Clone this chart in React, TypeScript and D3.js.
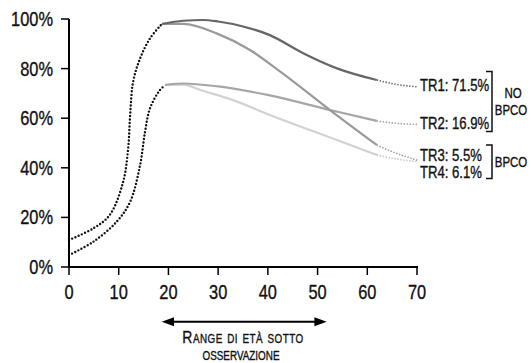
import React, { useEffect, useRef } from 'react';
import * as d3 from 'd3';

// Age (x) and share in percent (y)
type Pt = [number, number];

const riseUpper: Pt[] = [
  [0, 10.9], [4.9, 15.6], [8.2, 21], [10.9, 34.4], [11.9, 47.9], [12.3, 61.3],
  [12.9, 74.7], [14.3, 84.1], [16.3, 92.2], [18.7, 98]
];
const riseLower: Pt[] = [
  [0, 4.8], [4.9, 10.2], [9.6, 18.3], [12.3, 26.3], [14.3, 41.1], [15.3, 54.6],
  [16.3, 64], [18.3, 71.4], [19.3, 73.2]
];

const tr1: Pt[] = [[18.7, 98], [23, 99.3], [27, 99.6], [30, 99], [35, 97], [40.4, 93.5], [47.1, 86.2], [53.9, 80.1], [61.9, 75.4]];
const tr2: Pt[] = [[19.3, 73.4], [23, 74], [30, 72.8], [40.4, 69.2], [52.5, 63.3], [61.9, 58.9]];
const tr3: Pt[] = [[18.7, 98], [23, 98], [29.7, 94.2], [36.4, 87.5], [42.5, 78.8], [52.5, 63.3], [61.9, 49.2]];
const tr4: Pt[] = [[19.3, 73.4], [23, 73.5], [26.4, 71.4], [33, 67.3], [40.4, 61.3], [53.9, 51.2], [61.9, 45.2]];

const tail1: Pt[] = [[61.9, 75.4], [66, 73.6], [70.2, 72.6]];
const tail2: Pt[] = [[61.9, 58.9], [66, 57.9], [70.2, 57.5]];
const tail3: Pt[] = [[61.9, 49.2], [65, 46.5], [70.2, 43]];
const tail4: Pt[] = [[61.9, 45.2], [66, 43.5], [70.2, 42.5]];

const trLabels = ['TR1: 71.5%', 'TR2: 16.9%', 'TR3: 5.5%', 'TR4: 6.1%'];
const trLabelY = [73, 58, 44.8, 38.3];
const xTicks = [0, 10, 20, 30, 40, 50, 60, 70];
const yTicks = [0, 20, 40, 60, 80, 100];

const FONT = '"Liberation Sans", Arial, sans-serif';
const SQUEEZE = 0.82; // condensed look of the original lettering

const App = () => {
  const ref = useRef<SVGSVGElement>(null);

  useEffect(() => {
    const svg = d3.select(ref.current);
    svg.selectAll('*').remove();

    const x = d3.scaleLinear().domain([0, 70]).range([69, 417]);
    const y = d3.scaleLinear().domain([0, 100]).range([267, 19]);

    const line = d3.line<Pt>()
      .x(d => x(d[0]))
      .y(d => y(d[1]))
      .curve(d3.curveMonotoneX);
    const riseLine = d3.line<Pt>()
      .x(d => x(d[0]))
      .y(d => y(d[1]))
      .curve(d3.curveCatmullRom.alpha(0.5));

    // condensed text, anchored at (tx, ty)
    const label = (t: string | number, tx: number, ty: number, size: number, anchor = 'start') =>
      svg.append('g')
        .attr('transform', `translate(${tx},${ty}) scale(${SQUEEZE},1)`)
        .append('text')
        .attr('text-anchor', anchor)
        .attr('font-family', FONT)
        .attr('font-size', size)
        .attr('fill', '#111')
        .attr('stroke', '#111')
        .attr('stroke-width', 0.35)
        .text(t);

    // Solid curves
    const solids: [Pt[], string][] = [
      [tr4, '#d2d2d2'], [tr2, '#a6a6a6'], [tr3, '#9a9a9a'], [tr1, '#666666']
    ];
    solids.forEach(([d, c]) => {
      svg.append('path')
        .attr('d', line(d))
        .attr('fill', 'none')
        .attr('stroke', c)
        .attr('stroke-width', 2.2);
    });

    // Dotted tails to labels
    const tails: [Pt[], string][] = [
      [tail1, '#666666'], [tail2, '#a0a0a0'], [tail3, '#9a9a9a'], [tail4, '#c4c4c4']
    ];
    tails.forEach(([d, c]) => {
      svg.append('path')
        .attr('d', line(d))
        .attr('fill', 'none')
        .attr('stroke', c)
        .attr('stroke-width', 1.6)
        .attr('stroke-dasharray', '1.4,1.6');
    });

    // Dotted rise on the left
    [riseUpper, riseLower].forEach(d => {
      svg.append('path')
        .attr('d', riseLine(d))
        .attr('fill', 'none')
        .attr('stroke', '#111')
        .attr('stroke-width', 2.4)
        .attr('stroke-linecap', 'round')
        .attr('stroke-dasharray', '0,3.5');
    });

    // Axes
    svg.append('line')
      .attr('x1', x(0)).attr('x2', x(0))
      .attr('y1', y(100)).attr('y2', y(0))
      .attr('stroke', '#000').attr('stroke-width', 2);
    svg.append('line')
      .attr('x1', x(0) - 1).attr('x2', x(70) + 1)
      .attr('y1', y(0)).attr('y2', y(0))
      .attr('stroke', '#000').attr('stroke-width', 2);

    yTicks.forEach(t => {
      svg.append('line')
        .attr('x1', x(0) - 8).attr('x2', x(0))
        .attr('y1', y(t)).attr('y2', y(t))
        .attr('stroke', '#000').attr('stroke-width', 1.5);
      label(`${t}%`, 53, y(t) + 7, 20, 'end');
    });

    xTicks.forEach(t => {
      svg.append('line')
        .attr('x1', x(t)).attr('x2', x(t))
        .attr('y1', y(0)).attr('y2', y(0) + 8)
        .attr('stroke', '#000').attr('stroke-width', 1.5);
      label(t, x(t), 299, 20, 'middle');
    });

    // Labels on the right
    trLabels.forEach((l, i) => label(l, 420, y(trLabelY[i]) + 5.5, 16));

    // Brackets
    const brackets: [number, number][] = [[71.5, 131.5], [145, 178.5]];
    brackets.forEach(([a, b]) => {
      svg.append('path')
        .attr('d', `M486,${a}H492V${b}H486`)
        .attr('fill', 'none')
        .attr('stroke', '#111')
        .attr('stroke-width', 1.5);
    });

    label('NO', 513, 98, 14, 'middle');
    label('BPCO', 511, 115, 14, 'middle');
    label('BPCO', 511, 167, 14, 'middle');

    // Age range arrow
    const ay = 321.7;
    svg.append('line')
      .attr('x1', 170).attr('x2', 318)
      .attr('y1', ay).attr('y2', ay)
      .attr('stroke', '#000').attr('stroke-width', 2);
    svg.append('path')
      .attr('d', `M161.7,${ay}L174,${ay - 4.5}L174,${ay + 4.5}Z`)
      .attr('fill', '#000');
    svg.append('path')
      .attr('d', `M326.7,${ay}L314.4,${ay - 4.5}L314.4,${ay + 4.5}Z`)
      .attr('fill', '#000');

    label('Range di età sotto', 243, 343, 17, 'middle')
      .attr('font-variant', 'small-caps')
      .attr('letter-spacing', 0.6);
    label('osservazione', 241, 360, 17, 'middle')
      .attr('font-variant', 'small-caps');
  }, []);

  return (
    <svg
      ref={ref}
      width={531}
      height={363}
      style={{ position: 'absolute', left: 0, top: 0, background: '#fff' }}
    />
  );
};

export default App;
